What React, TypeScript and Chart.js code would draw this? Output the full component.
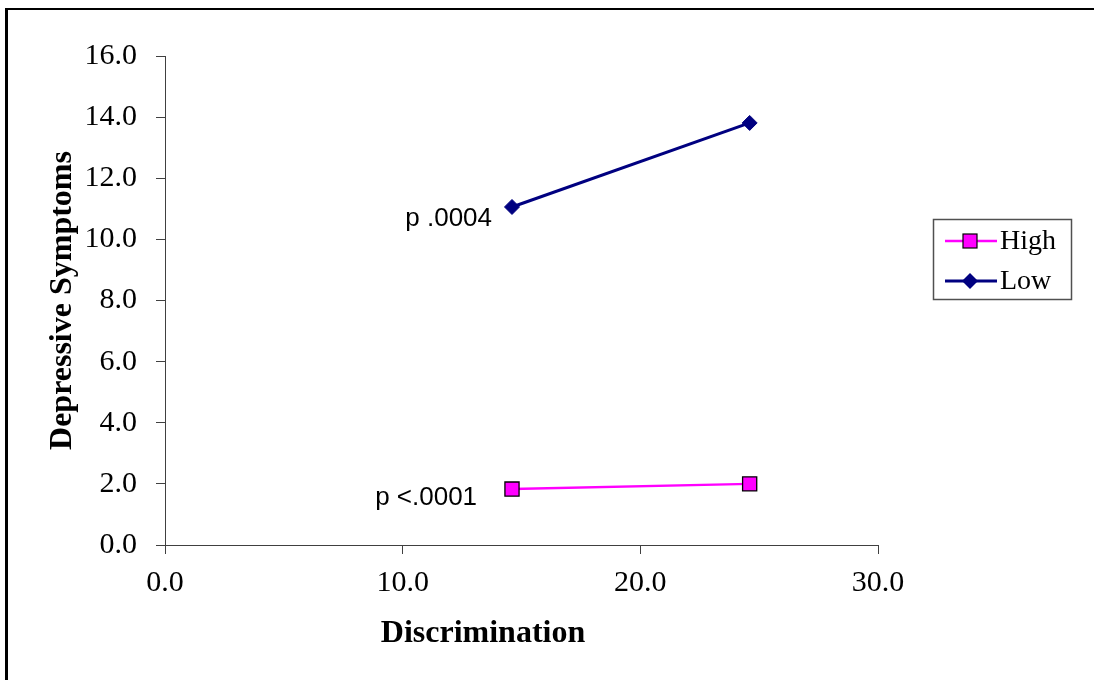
import React, { useEffect, useRef } from 'react';
import { Chart, registerables } from 'chart.js';

Chart.register(...registerables);

const seriesNames = ['High', 'Low'];
const discrimination = [14.6, 24.6];
const highValues = [1.83, 2.0];
const lowValues = [11.06, 13.81];
const xTickValues = [0, 10, 20, 30];
const yTickValues = [0, 2, 4, 6, 8, 10, 12, 14, 16];
const xTitle = 'Discrimination';
const yTitle = 'Depressive Symptoms';
const pLabels = ['p <.0001', 'p .0004'];
const pLabelX = [13.13, 13.76];
const pLabelY = [1.31, 10.44];

const HIGH_COLOR = '#FF00FF';
const LOW_COLOR = '#000080';
const AXIS_COLOR = '#404040';

const overlayPlugin = {
  id: 'overlay',
  afterDraw(chart: any) {
    const ctx = chart.ctx;
    const xs = chart.scales.x;
    const ys = chart.scales.y;
    ctx.save();
    // p-value annotations
    ctx.font = '26px "Liberation Sans", Arial, sans-serif';
    ctx.fillStyle = '#000';
    ctx.textAlign = 'right';
    ctx.textBaseline = 'alphabetic';
    pLabels.forEach((t, i) => {
      ctx.fillText(t, xs.getPixelForValue(pLabelX[i]), ys.getPixelForValue(pLabelY[i]));
    });
    // x axis title
    ctx.font = 'bold 32px "Liberation Serif", "Times New Roman", serif';
    ctx.textAlign = 'center';
    ctx.textBaseline = 'middle';
    ctx.fillText(xTitle, 483, 634);
    // legend
    const bx = 933, by = 219, bw = 138, bh = 80;
    ctx.strokeStyle = '#505050';
    ctx.lineWidth = 1.5;
    ctx.strokeRect(bx + 0.5, by + 0.5, bw, bh);
    const rows = [
      { name: seriesNames[0], color: HIGH_COLOR, y: 241, style: 'rect' },
      { name: seriesNames[1], color: LOW_COLOR, y: 281, style: 'diamond' },
    ];
    rows.forEach((r) => {
      ctx.strokeStyle = r.color;
      ctx.lineWidth = r.style === 'rect' ? 2.5 : 3;
      ctx.beginPath();
      ctx.moveTo(945, r.y);
      ctx.lineTo(997, r.y);
      ctx.stroke();
      const cx = 970;
      if (r.style === 'rect') {
        ctx.fillStyle = r.color;
        ctx.fillRect(cx - 7, r.y - 7, 14, 14);
        ctx.strokeStyle = '#000';
        ctx.lineWidth = 1.2;
        ctx.strokeRect(cx - 7, r.y - 7, 14, 14);
      } else {
        ctx.fillStyle = r.color;
        ctx.beginPath();
        ctx.moveTo(cx - 8, r.y);
        ctx.lineTo(cx, r.y - 8);
        ctx.lineTo(cx + 8, r.y);
        ctx.lineTo(cx, r.y + 8);
        ctx.closePath();
        ctx.fill();
      }
      ctx.fillStyle = '#000';
      ctx.font = '28px "Liberation Serif", "Times New Roman", serif';
      ctx.textAlign = 'left';
      ctx.textBaseline = 'middle';
      ctx.fillText(r.name, 1000, r.y + 1);
    });
    ctx.restore();
  },
};

export default function App() {
  const canvasRef = useRef<HTMLCanvasElement | null>(null);

  useEffect(() => {
    const canvas = canvasRef.current;
    if (!canvas) return;
    const chart = new Chart(canvas, {
      type: 'scatter',
      data: {
        datasets: [
          {
            label: seriesNames[0],
            data: discrimination.map((x, i) => ({ x, y: highValues[i] })),
            showLine: true,
            borderColor: HIGH_COLOR,
            borderWidth: 2.5,
            backgroundColor: HIGH_COLOR,
            pointStyle: 'rect',
            pointRadius: 10,
            pointBorderColor: '#000',
            pointBorderWidth: 1.3,
            pointBackgroundColor: HIGH_COLOR,
          },
          {
            label: seriesNames[1],
            data: discrimination.map((x, i) => ({ x, y: lowValues[i] })),
            showLine: true,
            borderColor: LOW_COLOR,
            borderWidth: 3,
            backgroundColor: LOW_COLOR,
            pointStyle: 'rectRot',
            pointRadius: 7.5,
            pointBorderColor: LOW_COLOR,
            pointBorderWidth: 1,
            pointBackgroundColor: LOW_COLOR,
          },
        ],
      },
      options: {
        responsive: false,
        animation: false,
        devicePixelRatio: 1,
        layout: { padding: { left: 0, top: 56, right: 216, bottom: 0 } },
        plugins: {
          legend: { display: false },
          tooltip: { enabled: false },
        },
        scales: {
          x: {
            type: 'linear',
            min: 0,
            max: 30,
            afterBuildTicks: (s: any) => {
              s.ticks = xTickValues.map((v) => ({ value: v }));
            },
            afterFit: (s: any) => {
              s.height = 135;
            },
            grid: {
              drawOnChartArea: false,
              drawTicks: true,
              tickLength: 9,
              color: AXIS_COLOR,
            },
            border: { display: true, color: AXIS_COLOR, width: 1 },
            ticks: {
              padding: 11,
              color: '#000',
              maxRotation: 0,
              font: { family: '"Liberation Serif", "Times New Roman", serif', size: 30 },
              callback: (v: any) => Number(v).toFixed(1),
            },
            title: { display: false },
          },
          y: {
            type: 'linear',
            min: 0,
            max: 16,
            afterBuildTicks: (s: any) => {
              s.ticks = yTickValues.map((v) => ({ value: v }));
            },
            afterFit: (s: any) => {
              s.width = 165;
            },
            grid: {
              drawOnChartArea: false,
              drawTicks: true,
              tickLength: 9,
              color: AXIS_COLOR,
            },
            border: { display: true, color: AXIS_COLOR, width: 1 },
            ticks: {
              padding: 19,
              color: '#000',
              font: { family: '"Liberation Serif", "Times New Roman", serif', size: 30 },
              callback: (v: any) => Number(v).toFixed(1),
            },
            title: {
              display: true,
              text: yTitle,
              color: '#000',
              font: { family: '"Liberation Serif", "Times New Roman", serif', size: 32, weight: 'bold' },
              padding: { top: 44, bottom: 0 },
            },
          },
        },
      },
      plugins: [overlayPlugin],
    });
    return () => chart.destroy();
  }, []);

  return (
    <div style={{ position: 'absolute', left: 0, top: 0, width: 1094, height: 680, overflow: 'hidden', background: '#fff' }}>
      <div
        style={{
          position: 'absolute',
          left: 5,
          top: 8,
          width: 1089,
          height: 672,
          boxSizing: 'border-box',
          borderTop: '2px solid #000',
          borderLeft: '3px solid #000',
        }}
      />
      <canvas ref={canvasRef} width={1094} height={680} style={{ position: 'absolute', left: 0, top: 0, width: 1094, height: 680 }} />
    </div>
  );
}
